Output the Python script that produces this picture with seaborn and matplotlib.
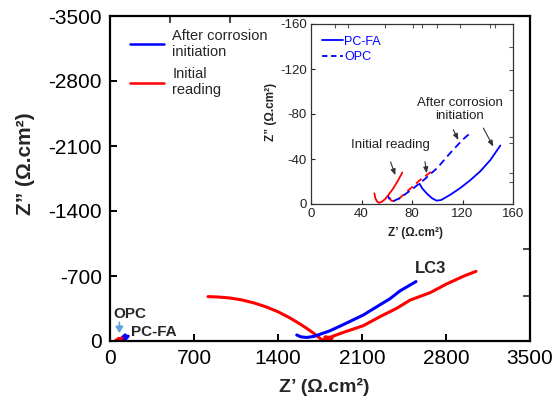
import matplotlib
matplotlib.use("Agg")
import matplotlib.pyplot as plt
from matplotlib.lines import Line2D
from matplotlib.ticker import FixedLocator
import seaborn as sns

# ---- LC3 concrete: Nyquist data, Z' and Z'' in ohm.cm2 ----
lc3_init_zre = [817, 900, 1000, 1100, 1200, 1300, 1400, 1500, 1600, 1680, 1740, 1765,
                1850, 1790, 1833, 1950, 2111, 2250, 2389, 2500, 2667, 2806, 2950, 3050]
lc3_init_zim = [-478, -474, -463, -442, -410, -368, -315, -248, -170, -100, -40, -12,
                -28, -42, -40, -95, -165, -262, -352, -440, -520, -615, -700, -750]
lc3_after_zre = [1556, 1590, 1640, 1700, 1833, 1950, 2111, 2250, 2333, 2417, 2550]
lc3_after_zim = [-65, -45, -38, -50, -110, -180, -280, -390, -455, -540, -640]

# ---- PC-FA and OPC (low impedance) ----
pcfa_init_zre = [50.2, 51, 52.5, 54, 56, 58.6, 62, 65.2, 69, 72.3]
pcfa_init_zim = [-9.5, -5, -2, -1, -2, -4.2, -9, -14, -21, -28]
pcfa_after_zre = [86, 88, 92, 96, 99.5, 103, 110, 118, 126, 134, 142, 150]
pcfa_after_zim = [-18, -14, -9, -5, -3, -3.5, -8, -14, -21, -29, -39, -52]
opc_init_zre = [62, 63.5, 66, 70, 75, 80, 86, 92, 98]
opc_init_zim = [-6, -3, -2.5, -5, -10, -15, -21, -26, -31]
opc_after_zre = [61, 62.5, 65, 70, 80, 90, 100, 110, 120, 127]
opc_after_zim = [-7, -3.5, -2.5, -5, -13, -22, -32, -45, -57, -64]

main_ticks = [0, 700, 1400, 2100, 2800, 3500]
inset_ticks = [0, 40, 80, 120, 160]

RED = "#ff0000"
BLUE = "#0000ff"

sns.set_theme(style="white")
plt.rcParams["font.family"] = ["Liberation Sans", "DejaVu Sans"]
plt.rcParams["axes.unicode_minus"] = False

fig = plt.figure(figsize=(5.54, 4.03), dpi=100)
W, H = 554, 403
ax = fig.add_axes([110 / W, 62 / H, 420 / W, 325 / H])


def curve(axis, x, y, color, lw, ls="-"):
    sns.lineplot(x=x, y=y, ax=axis, color=color, lw=lw, linestyle=ls,
                 sort=False, estimator=None, legend=False)


# main plot curves
curve(ax, lc3_init_zre, lc3_init_zim, RED, 2.2)
curve(ax, lc3_after_zre, lc3_after_zim, BLUE, 2.2)
curve(ax, pcfa_after_zre, pcfa_after_zim, BLUE, 2.4)
curve(ax, opc_after_zre, opc_after_zim, BLUE, 2.4)
curve(ax, pcfa_init_zre, pcfa_init_zim, RED, 2.4)
curve(ax, opc_init_zre, opc_init_zim, RED, 2.4)

ax.set_xlim(0, 3500)
ax.set_ylim(0, -3500)
ax.set_xticks(main_ticks)
ax.set_yticks([-t for t in main_ticks])
ax.set_xticklabels([str(t) for t in main_ticks])
ax.set_yticklabels(["0" if t == 0 else f"-{t}" for t in main_ticks])
ax.tick_params(axis="both", which="major", direction="in", length=5, width=1.4,
               labelsize=15, colors="black", pad=6)
ax.tick_params(axis="x", which="major", top=False, bottom=True)
ax.tick_params(axis="y", which="major", left=True, right=False)
ax.xaxis.set_minor_locator(FixedLocator([500, 1000]))
ax.yaxis.set_minor_locator(FixedLocator([-485, -700, -991]))
ax.tick_params(axis="x", which="minor", bottom=False, top=True, direction="in",
               length=5, width=1.2)
ax.tick_params(axis="y", which="minor", left=False, right=True, direction="in",
               length=5, width=1.2)
for s in ax.spines.values():
    s.set_color("black")
    s.set_linewidth(1.6)

ax.set_xlabel("Z’ (Ω.cm²)", fontsize=14, fontweight="bold")
ax.set_ylabel("Z” (Ω.cm²)", fontsize=15, fontweight="bold")
ax.xaxis.set_label_coords(0.51, -0.115)
ax.yaxis.set_label_coords(-0.178, 0.545)

ax.text(25, -291, "OPC", fontsize=11, fontweight="bold", ha="left", va="center")
ax.text(172, -100, "PC-FA", fontsize=11, fontweight="bold", ha="left", va="center")
ax.text(2542, -786, "LC3", fontsize=12, fontweight="bold", ha="left", va="center")
ax.annotate("", xy=(78, -85), xytext=(78, -200),
            arrowprops=dict(arrowstyle="-|>,head_width=0.18,head_length=0.3",
                            color="#5ba3e0", lw=1.3, shrinkA=0, shrinkB=0))

main_handles = [Line2D([], [], color=BLUE, lw=1.8), Line2D([], [], color=RED, lw=1.8)]
ax.legend(main_handles, ["After corrosion\ninitiation", "Initial\nreading"],
          loc="upper left", bbox_to_anchor=(0.048, 0.96), frameon=False,
          fontsize=10.5, handlelength=2.3, handletextpad=0.6, labelspacing=0.55,
          borderpad=0, borderaxespad=0)

# ---- inset: low-impedance mixes ----
ins = fig.add_axes([311 / W, 199 / H, 202 / W, 180 / H])
curve(ins, pcfa_init_zre, pcfa_init_zim, RED, 1.3)
curve(ins, opc_init_zre, opc_init_zim, RED, 1.3, (0, (4, 2.5)))
curve(ins, opc_after_zre, opc_after_zim, BLUE, 1.3, (2, (4, 2.5)))
curve(ins, pcfa_after_zre, pcfa_after_zim, BLUE, 1.3)

ins.set_xlim(0, 160)
ins.set_ylim(0, -160)
ins.set_xticks(inset_ticks)
ins.set_yticks([-t for t in inset_ticks])
ins.set_xticklabels([str(t) for t in inset_ticks])
ins.set_yticklabels(["0" if t == 0 else f"-{t}" for t in inset_ticks])
ins.tick_params(axis="both", which="major", direction="in", length=3, width=0.8,
                labelsize=9.5, colors="#222222", pad=3)
ins.tick_params(axis="x", which="major", top=False, bottom=True)
ins.tick_params(axis="y", which="major", left=True, right=False)
ins.xaxis.set_minor_locator(FixedLocator([19, 29.3, 58.6, 80.8, 87.7, 99.6, 118, 141.8, 145.7]))
ins.yaxis.set_minor_locator(FixedLocator([-139.8, -119, -101, -59.8, -54, -40, -27.6, -19.8]))
ins.tick_params(axis="x", which="minor", bottom=False, top=True, direction="in",
                length=3, width=0.8, color="#555555")
ins.tick_params(axis="y", which="minor", left=False, right=True, direction="in",
                length=3, width=0.8, color="#555555")
for s in ins.spines.values():
    s.set_color("#333333")
    s.set_linewidth(0.9)

ins.set_xlabel("Z’ (Ω.cm²)", fontsize=8.5, fontweight="bold", color="#222222")
ins.set_ylabel("Z” (Ω.cm²)", fontsize=8.5, fontweight="bold", color="#222222")
ins.xaxis.set_label_coords(0.515, -0.13)
ins.yaxis.set_label_coords(-0.168, 0.51)

ins_handles = [Line2D([], [], color=BLUE, lw=1.3),
               Line2D([], [], color=BLUE, lw=1.3, linestyle=(0, (3, 2)))]
ileg = ins.legend(ins_handles, ["PC-FA", "OPC"], loc="upper left",
                  bbox_to_anchor=(0.053, 0.935), frameon=False, fontsize=9,
                  handlelength=1.7, handletextpad=0.1, labelspacing=0.3,
                  borderpad=0, borderaxespad=0)
for t in ileg.get_texts():
    t.set_color(BLUE)

arrow = dict(arrowstyle="-|>,head_width=0.12,head_length=0.3", color="#333333",
             lw=0.8, shrinkA=0, shrinkB=0)
ins.text(62.6, -52.4, "Initial reading", fontsize=9.5, ha="center", va="center",
         color="#222222")
ins.text(118, -84, "After corrosion\ninitiation", fontsize=9.5, ha="center",
         va="center", color="#222222", linespacing=1.1)
ins.annotate("", xy=(66.8, -25.6), xytext=(63, -37.5), arrowprops=arrow)
ins.annotate("", xy=(91.6, -27.3), xytext=(90.3, -37.6), arrowprops=arrow)
ins.annotate("", xy=(116.7, -56.9), xytext=(112.7, -66), arrowprops=arrow)
ins.annotate("", xy=(144.4, -51), xytext=(136.5, -67.5), arrowprops=arrow)

fig.savefig("out.png", dpi=100)
